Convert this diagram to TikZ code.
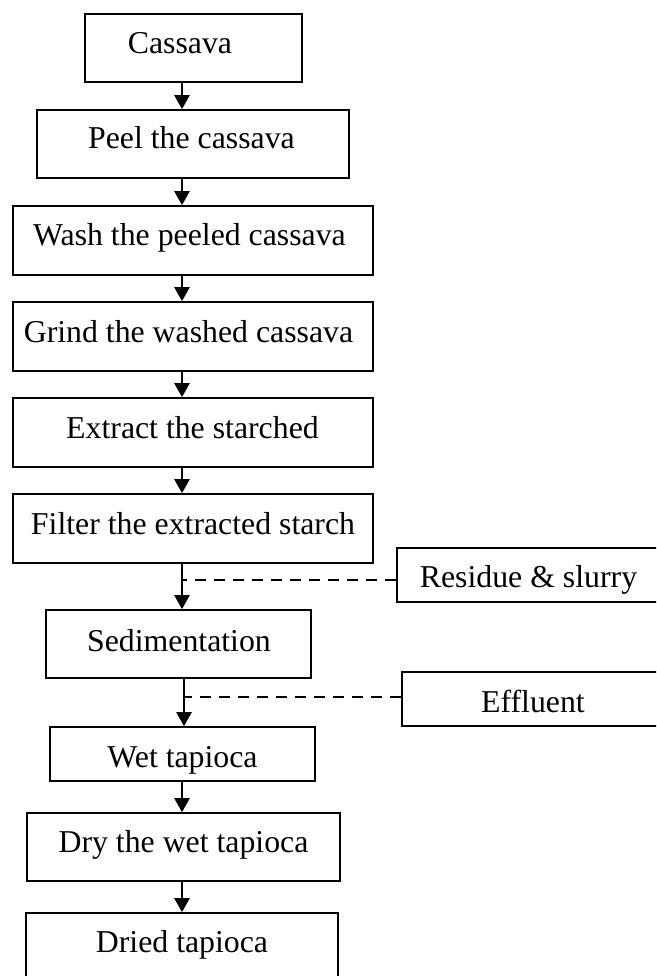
\documentclass[tikz,border=0pt]{standalone}
\usepackage{fontspec}
\setmainfont{Liberation Serif}
\usetikzlibrary{arrows.meta}
\tikzset{
  box/.style={draw, line width=1.6pt, rectangle, inner sep=0pt, anchor=center,
    font=\fontsize{31.8pt}{38pt}\selectfont},
  arr/.style={line width=2.2pt, -{Triangle[width=15pt,length=14pt]}},
  dashline/.style={line width=1.3pt, dash pattern=on 11pt off 8pt},
}
\begin{document}
\begin{tikzpicture}[x=1pt,y=-1pt]
\useasboundingbox (0,0) rectangle (656,976);
\clip (0,0) rectangle (656,976);
\coordinate (spine) at (182,0);
\node[box, minimum width=217pt, text height=40pt, text depth=28pt] (cas) at (193.5,48) {\hspace*{-27pt}Cassava};
\node[box, minimum width=312pt, text height=39pt, text depth=29pt] (peel) at (193,144) {\hspace*{-3pt}Peel the cassava};
\node[box, minimum width=360pt, text height=39pt, text depth=30pt] (wash) at (193,240.5) {\hspace*{-7pt}Wash the peeled cassava};
\node[box, minimum width=360pt, text height=40pt, text depth=29pt] (grind) at (193,336.5) {\hspace*{-9pt}Grind the washed cassava};
\node[box, minimum width=360pt, text height=40pt, text depth=29pt] (extract) at (193,432.5) {\hspace*{-1pt}Extract the starched};
\node[box, minimum width=360pt, text height=40pt, text depth=29pt] (filter) at (193,528.5) {Filter the extracted starch};
\node[box, minimum width=263pt, text height=39pt, text depth=15pt] (resid) at (528.5,575) {Residue \& slurry};
\node[box, minimum width=265pt, text height=41pt, text depth=27pt] (sed) at (178.5,644) {\hspace*{1pt}Sedimentation};
\node[box, minimum width=262pt, text height=40pt, text depth=14pt] (eff) at (533,699) {Effluent};
\node[box, minimum width=265pt, text height=40pt, text depth=14pt] (wet) at (182.5,754) {Wet tapioca};
\node[box, minimum width=313pt, text height=39pt, text depth=29pt] (dry) at (183.5,847) {Dry the wet tapioca};
\node[box, minimum width=312pt, text height=39pt, text depth=29pt] (dried) at (182,947) {Dried tapioca};
\draw[arr] (cas.south -| spine) -- (peel.north -| spine);
\draw[arr] (peel.south -| spine) -- (wash.north -| spine);
\draw[arr] (wash.south -| spine) -- (grind.north -| spine);
\draw[arr] (grind.south -| spine) -- (extract.north -| spine);
\draw[arr] (extract.south -| spine) -- (filter.north -| spine);
\draw[arr] (filter.south -| spine) -- (sed.north -| spine);
\draw[arr] ([xshift=2pt]sed.south -| spine) -- ([xshift=2pt]wet.north -| spine);
\draw[arr] (wet.south -| spine) -- (dry.north -| spine);
\draw[arr] (dry.south -| spine) -- (dried.north -| spine);
\draw[dashline] ([yshift=-5pt]resid.west) -- ([yshift=-5pt]resid.west -| spine);
\draw[dashline] ([yshift=2pt]eff.west) -- ([yshift=2pt,xshift=2pt]eff.west -| spine);
\end{tikzpicture}
\end{document}
